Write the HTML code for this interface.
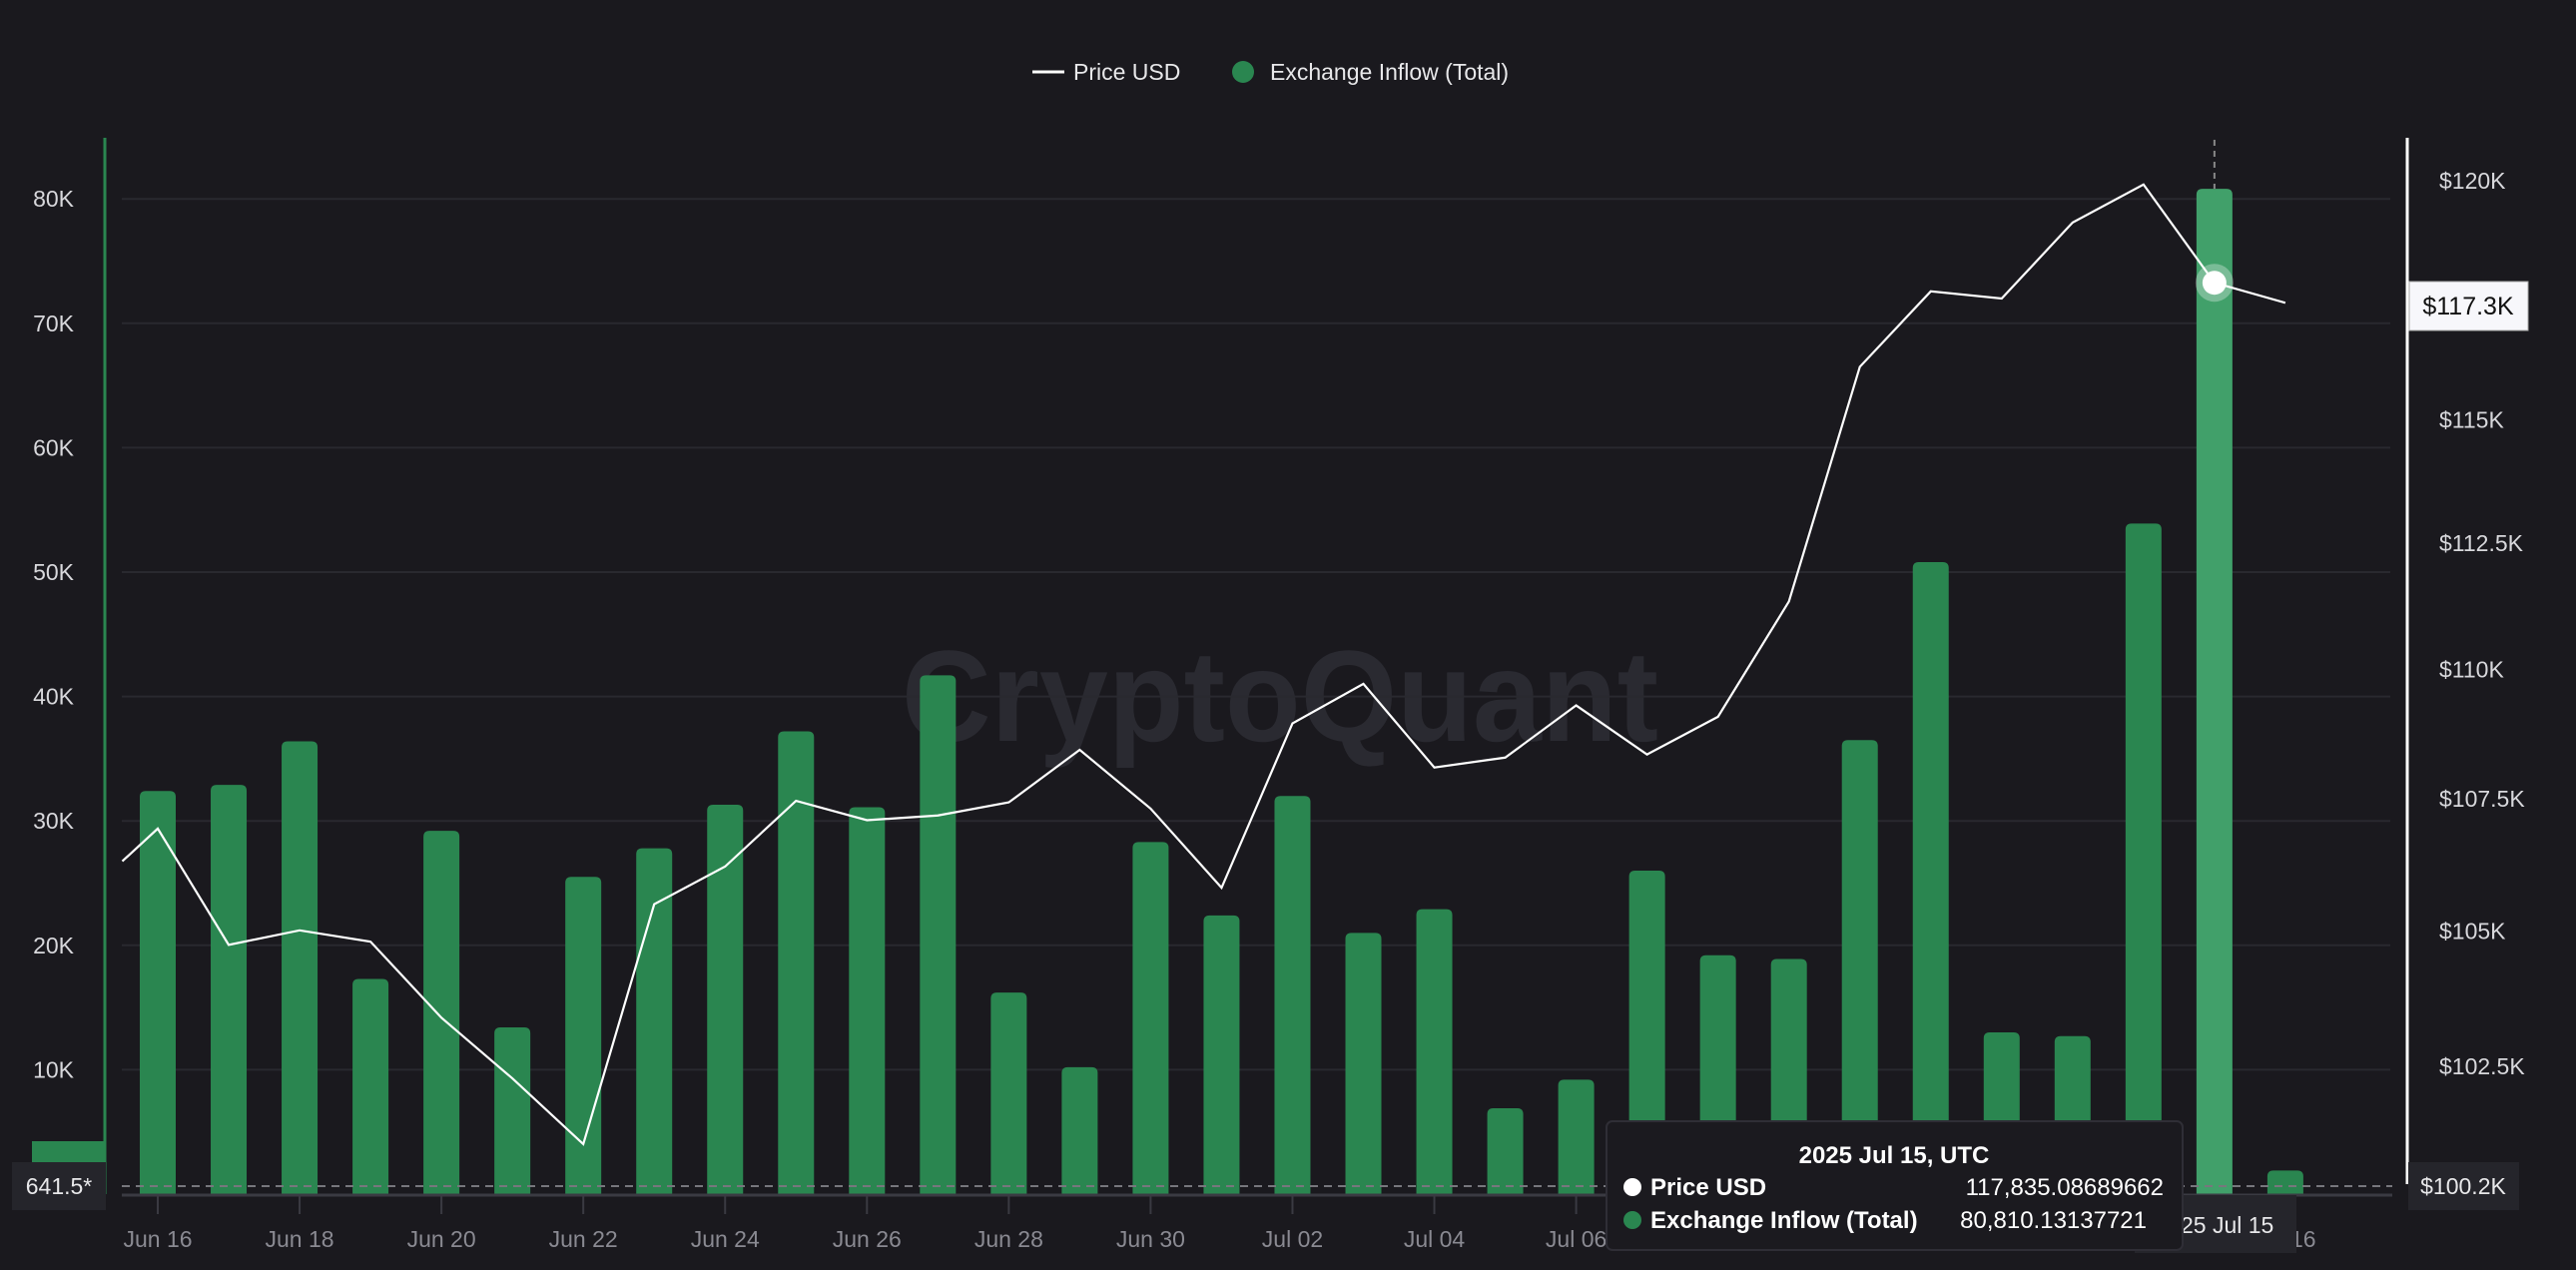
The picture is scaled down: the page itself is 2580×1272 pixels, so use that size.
<!DOCTYPE html>
<html><head><meta charset="utf-8"><style>
html,body{margin:0;padding:0;background:#1a191e;}
svg{display:block;font-family:"Liberation Sans",sans-serif;}
</style></head><body>
<svg id="chart" width="2580" height="1272" viewBox="0 0 2580 1272" xmlns="http://www.w3.org/2000/svg">
<rect width="2580" height="1272" fill="#1a191e"/>
<text x="1282" y="742" font-size="130" font-weight="bold" fill="#2a2a31" textLength="758" lengthAdjust="spacingAndGlyphs" text-anchor="middle">CryptoQuant</text>
<g id="grid"></g><g id="bars"></g><g id="line"></g><g id="axes"></g>
<g>
<line x1="1034" y1="72" x2="1066" y2="72" stroke="#fff" stroke-width="3"/>
<text x="1075" y="80" font-size="23" fill="#e8e8ea">Price USD</text>
<circle cx="1245" cy="72" r="11" fill="#2a8650"/>
<text x="1272" y="80" font-size="23" fill="#e8e8ea">Exchange Inflow (Total)</text>
</g>
<g id="overlay"></g>
</svg>
<script>
const dates=["Jun 16","Jun 17","Jun 18","Jun 19","Jun 20","Jun 21","Jun 22","Jun 23","Jun 24","Jun 25","Jun 26","Jun 27","Jun 28","Jun 29","Jun 30","Jul 01","Jul 02","Jul 03","Jul 04","Jul 05","Jul 06","Jul 07","Jul 08","Jul 09","Jul 10","Jul 11","Jul 12","Jul 13","Jul 14","Jul 15","Jul 16"];
const inflow=[32.4,32.9,36.4,17.3,29.2,13.4,25.5,27.8,31.3,37.2,31.1,41.7,16.2,10.2,28.3,22.4,32.0,21.0,22.9,6.9,9.2,26.0,19.2,18.9,36.5,50.8,13.0,12.7,53.9,80.81,1.9];
const price=[106.93,104.74,105.01,104.80,103.39,102.28,101.09,105.50,106.21,107.46,107.09,107.18,107.43,108.44,107.31,105.81,108.95,109.72,108.10,108.29,109.30,108.35,109.08,111.34,116.09,117.66,117.51,119.11,119.92,117.84,117.42];
const priceStart=106.31;
const leftTicks=[10,20,30,40,50,60,70,80];
const rightTicks=[102.5,105,107.5,110,112.5,115,117.5,120];
const xTickIdx=[0,2,4,6,8,10,12,14,16,18,20];
const hoverIdx=29;
const NS="http://www.w3.org/2000/svg";
const X=i=>158+i*71.03;
const YL=v=>1196-v*12.46;
const YR=p=>181+5627*Math.log(120/p);
function mk(tag,attrs,parent,txt){const e=document.createElementNS(NS,tag);for(const k in attrs)e.setAttribute(k,attrs[k]);if(txt!==undefined)e.textContent=txt;parent.appendChild(e);return e;}
const grid=document.getElementById('grid'),bars=document.getElementById('bars'),line=document.getElementById('line'),axes=document.getElementById('axes'),ov=document.getElementById('overlay');
leftTicks.forEach(v=>{
 const g=mk('line',{x1:122,x2:2394,y1:YL(v),y2:YL(v),stroke:'#29292f','stroke-width':2},grid);
 
 
 const t=mk('text',{x:74,y:YL(v)+8,'font-size':23,fill:'#d8d8dc','text-anchor':'end'},axes,v+'K');
 
 
});
rightTicks.forEach(p=>{
 const t=mk('text',{x:2443,y:YR(p)+8,'font-size':23,fill:'#d8d8dc'},axes,'$'+p+'K');
 
 
});
inflow.forEach((v,i)=>{
 const b=mk('path',{d:`M${X(i)-18},${YL(0)}V${YL(v)+6}q0,-6 6,-6h24q6,0 6,6V${YL(0)}Z`,fill:i===hoverIdx?'#41a06a':'#2a8650'},bars);
 
 
});
let pts=[[X(-0.5),YR(priceStart)]].concat(price.map((p,i)=>[X(i),YR(p)]));
const pl=mk('polyline',{points:pts.map(p=>p.join(',')).join(' '),fill:'none',stroke:'#ffffff','stroke-width':2.2,'stroke-linejoin':'miter'},line);


let a=mk('line',{x1:105,x2:105,y1:138,y2:1196,stroke:'#2a8650','stroke-width':3},axes);


a=mk('line',{x1:2411,x2:2411,y1:138,y2:1186,stroke:'#ffffff','stroke-width':3},axes);


a=mk('line',{x1:122,x2:2396,y1:1197,y2:1197,stroke:'#3a3a42','stroke-width':3},axes);


a=mk('line',{x1:122,x2:2396,y1:1188,y2:1188,stroke:'#77777d','stroke-width':2,'stroke-dasharray':'8,6'},axes);


xTickIdx.forEach(i=>{
 const tk=mk('line',{x1:X(i),x2:X(i),y1:1198,y2:1216,stroke:'#3a3a42','stroke-width':2},axes);
 
 
 const t=mk('text',{x:X(i),y:1249,'font-size':23,fill:'#8a8a92','text-anchor':'middle'},axes,dates[i]);
 
 
});
let t16=mk('text',{x:X(30),y:1249,'font-size':23,fill:'#8a8a92','text-anchor':'middle'},axes,dates[30]);


const hx=X(hoverIdx),hy=YR(price[hoverIdx]);
let o=mk('line',{x1:hx,x2:hx,y1:140,y2:YL(inflow[hoverIdx]),stroke:'#888','stroke-width':2,'stroke-dasharray':'6,5'},ov);


o=mk('circle',{cx:hx,cy:hy,r:19,fill:'rgba(255,255,255,0.3)'},ov);


o=mk('circle',{cx:hx,cy:hy,r:12,fill:'#ffffff'},ov);


o=mk('rect',{x:2413,y:282,width:119,height:49,fill:'#f7f7fb',stroke:'#aaa','stroke-width':1},ov);


o=mk('text',{x:2472,y:315,'font-size':25,fill:'#111','text-anchor':'middle'},ov,'$117.3K');


o=mk('rect',{x:32,y:1143,width:74,height:53,fill:'#2a8650'},ov);


o=mk('rect',{x:12,y:1164,width:94,height:48,fill:'#25252b'},ov);


o=mk('text',{x:59,y:1196,'font-size':23,fill:'#e8e8ea','text-anchor':'middle'},ov,'641.5*');


o=mk('rect',{x:2412,y:1164,width:111,height:48,fill:'#25252b'},ov);


o=mk('text',{x:2467,y:1196,'font-size':23,fill:'#e8e8ea','text-anchor':'middle'},ov,'$100.2K');


o=mk('rect',{x:2138,y:1197,width:162,height:58,fill:'#25252b'},ov);


o=mk('text',{x:hx,y:1235,'font-size':23,fill:'#e8e8ea','text-anchor':'middle'},ov,'2025 Jul 15');


o=mk('rect',{x:1609,y:1123,width:577,height:129,rx:6,fill:'#1b1a1f',stroke:'#2f2e36','stroke-width':2},ov);


o=mk('text',{x:1897,y:1165,'font-size':24,'font-weight':'bold',fill:'#fff','text-anchor':'middle'},ov,'2025 Jul 15, UTC');


o=mk('circle',{cx:1635,cy:1189,r:9,fill:'#fff'},ov);


o=mk('text',{x:1653,y:1197,'font-size':24,'font-weight':'bold',fill:'#fff'},ov,'Price USD');


o=mk('text',{x:2167,y:1197,'font-size':24,fill:'#fff','text-anchor':'end'},ov,'117,835.08689662');


o=mk('circle',{cx:1635,cy:1222,r:9,fill:'#2a8650'},ov);


o=mk('text',{x:1653,y:1230,'font-size':24,'font-weight':'bold',fill:'#fff'},ov,'Exchange Inflow (Total)');


o=mk('text',{x:2150,y:1230,'font-size':24,fill:'#fff','text-anchor':'end'},ov,'80,810.13137721');


</script>
</body></html>
